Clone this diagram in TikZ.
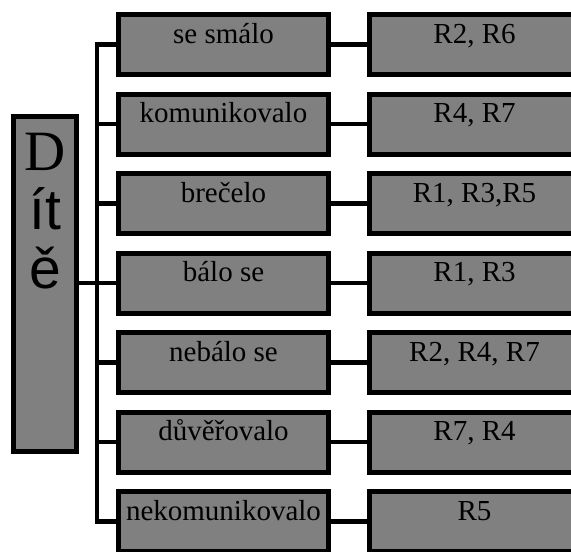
\documentclass[tikz,border=0pt]{standalone}
\usepackage{fontspec}
\setmainfont{Liberation Serif}
\newfontfamily\sansdite{Liberation Sans}

\begin{document}
\begin{tikzpicture}[x=1pt, y=-1pt,
		box/.style={draw=black, fill=black!50, line width=5pt, inner sep=0pt,
			minimum width=210pt, text height=28.5pt, text depth=31.5pt,
			font=\fontsize{29}{34}\selectfont},
		wire/.style={draw=black, line width=4.5pt}]
		%%%%% START %%%%%
		
		\clip (0, 0) rectangle (571, 552);
		
		% left box
		\node[box, minimum width=63pt, text height=53.5pt, text depth=281.5pt,
			font=\fontsize{57}{58}\selectfont] (dite) at (45, 284)
			{\begin{tabular}[t]{@{}c@{}}D\\{\sansdite ít}\\{\sansdite ě}\end{tabular}};
		
		% middle column
		\node[box] (smalo) at (223.5, 44.5) {se smálo};
		\node[box] (komunikovalo) at (223.5, 124) {komunikovalo};
		\node[box] (brecelo) at (223.5, 203.5) {brečelo};
		\node[box] (balo) at (223.5, 283) {bálo se};
		\node[box] (nebalo) at (223.5, 362.5) {nebálo se};
		\node[box] (duverovalo) at (223.5, 442) {důvěřovalo};
		\node[box] (nekomunikovalo) at (223.5, 521.5) {nekomunikovalo};
		
		% right column
		\node[box] (r-smalo) at (474.5, 44.5) {R2, R6};
		\node[box] (r-komunikovalo) at (474.5, 124) {R4, R7};
		\node[box] (r-brecelo) at (474.5, 203.5) {R1, R3,R5};
		\node[box] (r-balo) at (474.5, 283) {R1, R3};
		\node[box] (r-nebalo) at (474.5, 362.5) {R2, R4, R7};
		\node[box] (r-duverovalo) at (474.5, 442) {R7, R4};
		\node[box] (r-nekomunikovalo) at (474.5, 521.5) {R5};
		
		% bus
		\coordinate (bus) at (97, 0);
		\draw[wire] (smalo.west) -- (bus|-smalo.west) -- (bus|-nekomunikovalo.west) -- (nekomunikovalo.west);
		\draw[wire] (komunikovalo.west) -- (bus|-komunikovalo.west);
		\draw[wire] (brecelo.west) -- (bus|-brecelo.west);
		\draw[wire] (balo.west) -- (bus|-balo.west);
		\draw[wire] (nebalo.west) -- (bus|-nebalo.west);
		\draw[wire] (duverovalo.west) -- (bus|-duverovalo.west);
		\draw[wire] (dite.east|-balo.west) -- (bus|-balo.west);
		
		% middle to right
		\draw[wire] (smalo.east) -- (r-smalo.west);
		\draw[wire] (komunikovalo.east) -- (r-komunikovalo.west);
		\draw[wire] (brecelo.east) -- (r-brecelo.west);
		\draw[wire] (balo.east) -- (r-balo.west);
		\draw[wire] (nebalo.east) -- (r-nebalo.west);
		\draw[wire] (duverovalo.east) -- (r-duverovalo.west);
		\draw[wire] (nekomunikovalo.east) -- (r-nekomunikovalo.west);
		
		%%%%% END %%%%%
	\end{tikzpicture}
\end{document}
